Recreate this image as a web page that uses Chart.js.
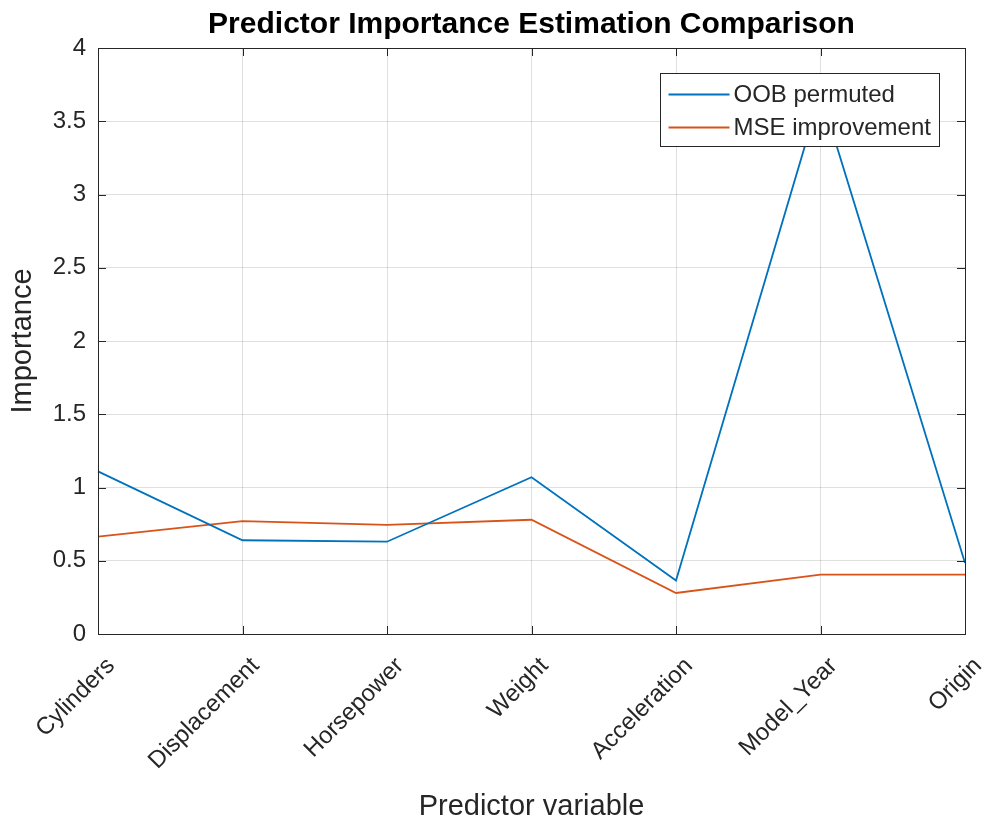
<!DOCTYPE html>
<html>
<head>
<meta charset="utf-8">
<script src="https://cdn.jsdelivr.net/npm/chart.js@4/dist/chart.umd.min.js"></script>
<style>
  html, body { margin: 0; padding: 0; background: #fff; }
  #wrap { width: 986px; height: 822px; position: relative; }
</style>
</head>
<body>
<div id="wrap"><canvas id="chart"></canvas></div>
<script>
// data
var categories = ['Cylinders', 'Displacement', 'Horsepower', 'Weight', 'Acceleration', 'Model_Year', 'Origin'];
var oobPermuted = [1.11, 0.64, 0.63, 1.07, 0.365, 3.69, 0.485];
var mseImprovement = [0.665, 0.77, 0.745, 0.78, 0.28, 0.405, 0.405];
var seriesNames = ['OOB permuted', 'MSE improvement'];
var seriesColors = ['#0072BD', '#D95319'];
var chartTitle = 'Predictor Importance Estimation Comparison';

var axisColor = '#262626';
var fontFamily = '"Liberation Sans", Arial, Helvetica, sans-serif';

// box around the axes + inward tick marks (matlab style), title centred on the axes
var boxPlugin = {
    id: 'box',
    afterDatasetsDraw: function(chart) {
        var ctx = chart.ctx, a = chart.chartArea;
        var xs = chart.scales.x, ys = chart.scales.y;
        var len = 8;
        ctx.save();
        ctx.strokeStyle = axisColor;
        ctx.lineWidth = 1;
        ctx.beginPath();
        for (var i = 0; i < xs.ticks.length; i++) {
            var px = Math.round(xs.getPixelForTick(i)) + 0.5;
            ctx.moveTo(px, a.bottom); ctx.lineTo(px, a.bottom - len);
            ctx.moveTo(px, a.top); ctx.lineTo(px, a.top + len);
        }
        for (var j = 0; j < ys.ticks.length; j++) {
            var py = Math.round(ys.getPixelForTick(j)) + 0.5;
            ctx.moveTo(a.left, py); ctx.lineTo(a.left + len, py);
            ctx.moveTo(a.right, py); ctx.lineTo(a.right - len, py);
        }
        ctx.stroke();
        ctx.strokeRect(Math.round(a.left) + 0.5, Math.round(a.top) + 0.5,
            Math.round(a.right - a.left), Math.round(a.bottom - a.top));

        ctx.fillStyle = '#000';
        ctx.font = 'bold 30px ' + fontFamily;
        ctx.textAlign = 'center';
        ctx.textBaseline = 'alphabetic';
        ctx.fillText(chartTitle, (a.left + a.right) / 2, 33);
        ctx.restore();
    }
};

// legend box in the upper right of the axes
var legendPlugin = {
    id: 'boxLegend',
    afterDraw: function(chart) {
        var ctx = chart.ctx, a = chart.chartArea;
        var w = 279, h = 73;
        var x0 = Math.round(a.right - 26 - w) + 0.5, y0 = Math.round(a.top + 25) + 0.5;
        ctx.save();
        ctx.fillStyle = '#fff';
        ctx.fillRect(x0, y0, w, h);
        ctx.strokeStyle = axisColor;
        ctx.lineWidth = 1;
        ctx.strokeRect(x0, y0, w, h);
        ctx.font = '24px ' + fontFamily;
        ctx.textBaseline = 'middle';
        ctx.textAlign = 'left';
        for (var i = 0; i < seriesNames.length; i++) {
            var cy = y0 + 21 + i * 33;
            ctx.strokeStyle = seriesColors[i];
            ctx.lineWidth = 1.8;
            ctx.beginPath();
            ctx.moveTo(x0 + 8, cy); ctx.lineTo(x0 + 69, cy);
            ctx.stroke();
            ctx.fillStyle = axisColor;
            ctx.fillText(seriesNames[i], x0 + 73, cy + 1);
        }
        ctx.restore();
    }
};

new Chart(document.getElementById('chart'), {
    type: 'line',
    data: {
        labels: categories,
        datasets: [
            { label: seriesNames[0], data: oobPermuted, borderColor: seriesColors[0] },
            { label: seriesNames[1], data: mseImprovement, borderColor: seriesColors[1] }
        ]
    },
    options: {
        responsive: true,
        maintainAspectRatio: false,
        animation: false,
        layout: { padding: { left: 0, right: 21, top: 48, bottom: 0 } },
        elements: {
            line: { borderWidth: 1.8, tension: 0, fill: false },
            point: { radius: 0, hoverRadius: 0 }
        },
        plugins: {
            legend: { display: false },
            tooltip: { enabled: false },
            title: { display: false }
        },
        scales: {
            x: {
                offset: false,
                grid: { color: 'rgba(38,38,38,0.15)', drawTicks: false },
                border: { color: axisColor, width: 1 },
                ticks: {
                    autoSkip: false, maxRotation: 45, minRotation: 45,
                    color: axisColor, padding: 18, labelOffset: 13,
                    font: { family: fontFamily, size: 24 }
                },
                title: {
                    display: true, text: 'Predictor variable', color: axisColor,
                    font: { family: fontFamily, size: 29, lineHeight: 1.0 }, padding: { top: 0, bottom: 1 }
                },
                afterFit: function(s) { s.height = 188; s.paddingLeft = 0; s.paddingRight = 0; }
            },
            y: {
                min: 0, max: 4,
                grid: { color: 'rgba(38,38,38,0.15)', drawTicks: false },
                border: { color: axisColor, width: 1 },
                ticks: {
                    stepSize: 0.5, color: axisColor, padding: 12,
                    font: { family: fontFamily, size: 24 },
                    callback: function(v) { return String(v); }
                },
                title: {
                    display: true, text: 'Importance', color: axisColor,
                    font: { family: fontFamily, size: 29, lineHeight: 1.0 }, padding: { top: 8, bottom: 0 }
                },
                afterFit: function(s) { s.width = 98; s.paddingTop = 0; s.paddingBottom = 0; }
            }
        }
    },
    plugins: [boxPlugin, legendPlugin]
});
</script>
</body>
</html>
